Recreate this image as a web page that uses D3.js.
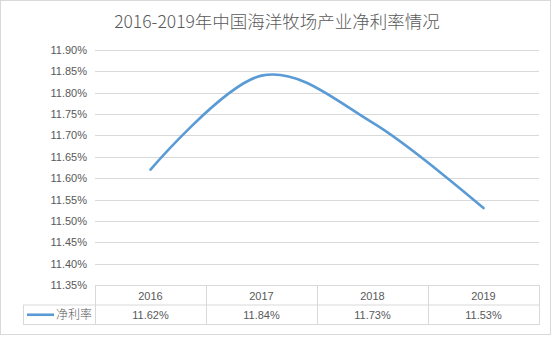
<!DOCTYPE html>
<html>
<head>
<meta charset="utf-8">
<script src="https://cdn.jsdelivr.net/npm/d3@7"></script>
<style>
  body { margin: 0; background: #fff; }
  svg text { font-family: "Liberation Sans", "Noto Sans CJK SC", sans-serif; fill: #595959; }
</style>
</head>
<body>
<div id="chart"></div>
<script>
const years = ['2016', '2017', '2018', '2019'];
const rates = [11.62, 11.84, 11.73, 11.53];
const seriesName = '净利率';
const title = '2016-2019年中国海洋牧场产业净利率情况';
const yTicks = [11.35, 11.40, 11.45, 11.50, 11.55, 11.60, 11.65, 11.70, 11.75, 11.80, 11.85, 11.90];

const width = 554;
const height = 337;
const plot = { left: 95, right: 539, top: 50, bottom: 285 };
const rowH = 19.5;

const svg = d3.select('#chart')
  .append('svg')
  .attr('width', width)
  .attr('height', height);

svg.append('rect')
  .attr('x', 0.5)
  .attr('y', 0.5)
  .attr('width', 550)
  .attr('height', 334)
  .attr('fill', 'white')
  .attr('stroke', '#d9d9d9');

svg.append('text')
  .attr('x', width / 2)
  .attr('y', 28)
  .attr('text-anchor', 'middle')
  .attr('font-size', '17.5px')
  .style('font-family', '"Noto Sans CJK SC", sans-serif')
  .style('font-weight', 300)
  .text(title);

const x = d3.scaleBand()
  .domain(years)
  .range([plot.left, plot.right]);

const y = d3.scaleLinear()
  .domain([11.35, 11.90])
  .range([plot.bottom, plot.top]);

// grid lines
svg.append('g')
  .selectAll('line')
  .data(yTicks.slice(1))
  .join('line')
  .attr('x1', plot.left)
  .attr('x2', plot.right)
  .attr('y1', (d) => Math.round(y(d)) + 0.5)
  .attr('y2', (d) => Math.round(y(d)) + 0.5)
  .attr('stroke', '#d9d9d9');

// y labels
svg.append('g')
  .selectAll('text')
  .data(yTicks)
  .join('text')
  .attr('x', 87)
  .attr('y', (d) => y(d) + 4)
  .attr('text-anchor', 'end')
  .attr('font-size', '11px')
  .text((d) => d.toFixed(2) + '%');

// line
const line = d3.line()
  .x((d, i) => x(years[i]) + x.bandwidth() / 2)
  .y((d) => y(d))
  .curve(d3.curveCatmullRom.alpha(0));

svg.append('path')
  .datum(rates)
  .attr('d', line)
  .attr('fill', 'none')
  .attr('stroke', '#5b9bd5')
  .attr('stroke-width', 2.6)
  .attr('stroke-linecap', 'round');

// data table
const table = svg.append('g').attr('stroke', '#d9d9d9').attr('fill', 'none');
const tTop = plot.bottom + 0.5;
table.append('rect')
  .attr('x', plot.left + 0.5)
  .attr('y', tTop)
  .attr('width', plot.right - plot.left)
  .attr('height', rowH * 2);
table.append('rect')
  .attr('x', 23.5)
  .attr('y', tTop + rowH)
  .attr('width', plot.left - 23)
  .attr('height', rowH);
table.append('line')
  .attr('x1', plot.left)
  .attr('x2', plot.right)
  .attr('y1', tTop + rowH)
  .attr('y2', tTop + rowH);
table.selectAll('line.v')
  .data(years.slice(1))
  .join('line')
  .attr('class', 'v')
  .attr('x1', (d) => Math.round(x(d)) + 0.5)
  .attr('x2', (d) => Math.round(x(d)) + 0.5)
  .attr('y1', tTop)
  .attr('y2', tTop + rowH * 2);

svg.append('g')
  .selectAll('text')
  .data(years)
  .join('text')
  .attr('x', (d) => x(d) + x.bandwidth() / 2)
  .attr('y', tTop + 14)
  .attr('text-anchor', 'middle')
  .attr('font-size', '11px')
  .text((d) => d);

svg.append('g')
  .selectAll('text')
  .data(rates)
  .join('text')
  .attr('x', (d, i) => x(years[i]) + x.bandwidth() / 2)
  .attr('y', tTop + rowH + 14)
  .attr('text-anchor', 'middle')
  .attr('font-size', '11px')
  .text((d) => d.toFixed(2) + '%');

svg.append('line')
  .attr('x1', 27)
  .attr('x2', 54)
  .attr('y1', tTop + rowH * 1.5)
  .attr('y2', tTop + rowH * 1.5)
  .attr('stroke', '#5b9bd5')
  .attr('stroke-width', 2.6);

svg.append('text')
  .attr('x', 56)
  .attr('y', tTop + rowH + 14)
  .attr('font-size', '12px')
  .style('font-family', '"Noto Sans CJK SC", sans-serif')
  .style('font-weight', 300)
  .text(seriesName);
</script>
</body>
</html>
